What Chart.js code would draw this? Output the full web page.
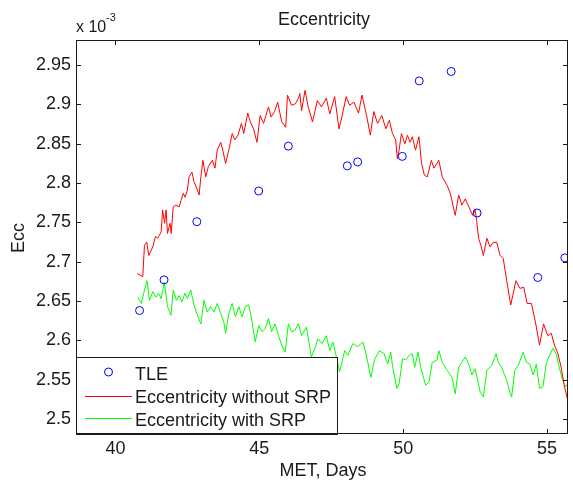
<!DOCTYPE html>
<html lang="en">
<head>
  <meta charset="UTF-8" />
  <title>Eccentricity</title>
  <script src="https://cdn.jsdelivr.net/npm/chart.js"></script>
  <style>
    body { margin: 0; background: #fff; }
    canvas { display: block; }
  </style>
</head>
<body>
  <canvas id="eccChart" width="573" height="483"></canvas>

  <script>
    // values in units of 1e-3 (axis shows "x 10^-3")
    const tleDays = [40.84, 41.69, 42.83, 44.98, 46.01, 48.06, 48.42, 49.97, 50.56, 51.67, 52.57, 54.68, 55.62];
    const tleEcc  = [2.638, 2.677, 2.751, 2.790, 2.847, 2.822, 2.827, 2.834, 2.930, 2.942, 2.762, 2.680, 2.705];

    const redDays = [40.76, 40.95, 41.01, 41.09, 41.16, 41.30, 41.39, 41.47, 41.59, 41.64,
      41.71, 41.76, 41.81, 41.90, 41.94, 42.01, 42.10, 42.22, 42.28, 42.36,
      42.42, 42.50, 42.56, 42.66, 42.73, 42.81, 42.91, 42.97, 43.04, 43.14,
      43.23, 43.37, 43.46, 43.54, 43.66, 43.73, 43.83, 43.94, 44.06, 44.15,
      44.26, 44.38, 44.46, 44.60, 44.69, 44.80, 44.92, 45.03, 45.15, 45.32,
      45.41, 45.53, 45.64, 45.78, 45.92, 45.98, 46.12, 46.26, 46.36, 46.41,
      46.47, 46.59, 46.70, 46.85, 47.02, 47.16, 47.33, 47.45, 47.62, 47.77,
      47.87, 48.02, 48.14, 48.29, 48.45, 48.57, 48.74, 48.86, 48.98, 49.11,
      49.26, 49.40, 49.52, 49.63, 49.74, 49.80, 49.86, 49.94, 50.06, 50.15,
      50.24, 50.32, 50.43, 50.55, 50.64, 50.74, 50.84, 50.98, 51.07, 51.24,
      51.36, 51.53, 51.64, 51.81, 51.93, 52.04, 52.16, 52.28, 52.42, 52.50,
      52.56, 52.62, 52.70, 52.79, 52.91, 53.02, 53.11, 53.25, 53.37, 53.48,
      53.60, 53.74, 53.81, 53.92, 54.06, 54.19, 54.31, 54.46, 54.61, 54.74,
      54.88, 55.03, 55.15, 55.26, 55.38, 55.49, 55.61, 55.72, 55.80];
    const redEcc = [2.685, 2.681, 2.721, 2.725, 2.708, 2.719, 2.732, 2.730, 2.738, 2.766,
      2.749, 2.766, 2.736, 2.749, 2.736, 2.770, 2.772, 2.770, 2.778, 2.787,
      2.782, 2.791, 2.808, 2.814, 2.802, 2.795, 2.785, 2.808, 2.829, 2.808,
      2.821, 2.829, 2.819, 2.842, 2.852, 2.842, 2.825, 2.842, 2.863, 2.855,
      2.861, 2.876, 2.863, 2.889, 2.878, 2.869, 2.852, 2.886, 2.876, 2.897,
      2.884, 2.891, 2.903, 2.878, 2.871, 2.912, 2.899, 2.901, 2.908, 2.914,
      2.892, 2.918, 2.897, 2.878, 2.905, 2.897, 2.908, 2.888, 2.910, 2.869,
      2.884, 2.910, 2.899, 2.903, 2.889, 2.912, 2.884, 2.861, 2.891, 2.876,
      2.886, 2.869, 2.880, 2.863, 2.855, 2.831, 2.842, 2.863, 2.850, 2.861,
      2.852, 2.859, 2.842, 2.859, 2.825, 2.810, 2.808, 2.829, 2.819, 2.829,
      2.808, 2.797, 2.787, 2.759, 2.785, 2.772, 2.780, 2.770, 2.759, 2.766,
      2.751, 2.730, 2.721, 2.708, 2.730, 2.719, 2.724, 2.725, 2.708, 2.704,
      2.676, 2.645, 2.657, 2.676, 2.666, 2.668, 2.647, 2.647, 2.621, 2.594,
      2.621, 2.606, 2.609, 2.594, 2.583, 2.566, 2.541, 2.524, 2.512];

    const greenDays = [40.78, 40.90, 41.01, 41.10, 41.18, 41.30, 41.41, 41.50, 41.59, 41.70,
      41.81, 41.93, 42.01, 42.12, 42.22, 42.31, 42.42, 42.50, 42.62, 42.73,
      42.85, 42.97, 43.08, 43.19, 43.31, 43.42, 43.54, 43.66, 43.77, 43.83,
      43.94, 44.06, 44.17, 44.29, 44.40, 44.52, 44.63, 44.74, 44.86, 44.98,
      45.09, 45.21, 45.32, 45.43, 45.55, 45.67, 45.78, 45.90, 46.01, 46.12,
      46.24, 46.36, 46.47, 46.64, 46.81, 46.93, 47.04, 47.18, 47.33, 47.45,
      47.56, 47.68, 47.79, 47.97, 48.08, 48.25, 48.42, 48.60, 48.71, 48.88,
      49.00, 49.17, 49.34, 49.46, 49.57, 49.63, 49.78, 49.86, 49.98, 50.09,
      50.21, 50.32, 50.40, 50.52, 50.61, 50.78, 50.90, 51.01, 51.18, 51.24,
      51.36, 51.53, 51.70, 51.81, 51.93, 52.04, 52.16, 52.28, 52.39, 52.50,
      52.68, 52.79, 52.91, 53.08, 53.23, 53.31, 53.42, 53.60, 53.71, 53.77,
      53.88, 54.00, 54.17, 54.29, 54.40, 54.52, 54.63, 54.74, 54.86, 54.98,
      55.09, 55.21, 55.32, 55.41, 55.53, 55.64, 55.72];
    const greenEcc = [2.655, 2.647, 2.664, 2.676, 2.651, 2.662, 2.655, 2.660, 2.653, 2.674,
      2.643, 2.632, 2.664, 2.651, 2.657, 2.649, 2.660, 2.653, 2.664, 2.645,
      2.632, 2.621, 2.651, 2.636, 2.643, 2.636, 2.647, 2.634, 2.623, 2.609,
      2.634, 2.647, 2.630, 2.643, 2.630, 2.643, 2.645, 2.626, 2.598, 2.619,
      2.611, 2.615, 2.628, 2.611, 2.621, 2.606, 2.594, 2.585, 2.621, 2.611,
      2.613, 2.621, 2.606, 2.617, 2.579, 2.590, 2.602, 2.596, 2.606, 2.587,
      2.598, 2.579, 2.560, 2.587, 2.581, 2.596, 2.592, 2.598, 2.583, 2.553,
      2.575, 2.587, 2.583, 2.570, 2.585, 2.568, 2.539, 2.545, 2.577, 2.575,
      2.581, 2.583, 2.566, 2.585, 2.566, 2.543, 2.547, 2.572, 2.575, 2.587,
      2.572, 2.562, 2.553, 2.532, 2.566, 2.572, 2.579, 2.570, 2.556, 2.564,
      2.534, 2.528, 2.562, 2.568, 2.583, 2.572, 2.566, 2.549, 2.534, 2.528,
      2.562, 2.568, 2.585, 2.572, 2.570, 2.556, 2.570, 2.539, 2.541, 2.572,
      2.581, 2.590, 2.583, 2.568, 2.551, 2.541, 2.545];

    const xTicks = [40, 45, 50, 55];
    const yTicks = [2.5, 2.55, 2.6, 2.65, 2.7, 2.75, 2.8, 2.85, 2.9, 2.95];
    const seriesNames = ['TLE', 'Eccentricity without SRP', 'Eccentricity with SRP'];

    const toPts = (xs, ys) => xs.map((x, i) => ({ x, y: ys[i] }));
    const FONT = "'Liberation Sans', Arial, sans-serif";
    const INK = '#1a1a1a';

    // box, inward ticks, legend and text labels in matlab style
    const matlabDecor = {
      id: 'matlabDecor',
      afterDatasetsDraw(chart) {
        const ctx = chart.ctx;
        const a = chart.chartArea;
        const xs = chart.scales.x, ys = chart.scales.y;
        ctx.save();
        ctx.strokeStyle = INK;
        ctx.lineWidth = 1;
        ctx.beginPath();
        xTicks.forEach(v => {
          const px = Math.round(xs.getPixelForValue(v)) + 0.5;
          ctx.moveTo(px, a.bottom); ctx.lineTo(px, a.bottom - 5);
          ctx.moveTo(px, a.top); ctx.lineTo(px, a.top + 5);
        });
        yTicks.forEach(v => {
          const py = Math.round(ys.getPixelForValue(v)) + 0.5;
          ctx.moveTo(a.left, py); ctx.lineTo(a.left + 5, py);
          ctx.moveTo(a.right, py); ctx.lineTo(a.right - 5, py);
        });
        ctx.stroke();

        // legend box
        const lx = a.left + 0.5, ly = 357.5, lw = 261, lh = a.bottom - 357;
        ctx.fillStyle = '#fff';
        ctx.fillRect(lx, ly, lw, lh);
        ctx.strokeRect(lx, ly, lw, lh);

        ctx.strokeStyle = '#0000ff';
        ctx.beginPath();
        ctx.arc(108.5, 372, 4, 0, Math.PI * 2);
        ctx.stroke();
        ctx.strokeStyle = '#ff0000';
        ctx.beginPath(); ctx.moveTo(85, 396.5); ctx.lineTo(132, 396.5); ctx.stroke();
        ctx.strokeStyle = '#00ff00';
        ctx.beginPath(); ctx.moveTo(85, 418.5); ctx.lineTo(132, 418.5); ctx.stroke();

        ctx.fillStyle = INK;
        ctx.font = '18px ' + FONT;
        ctx.textAlign = 'left';
        ctx.textBaseline = 'alphabetic';
        ctx.fillText(seriesNames[0], 135, 380);
        ctx.fillText(seriesNames[1], 135, 403);
        ctx.fillText(seriesNames[2], 135, 426);

        // axes box
        ctx.strokeStyle = INK;
        ctx.strokeRect(a.left + 0.5, a.top + 0.5, a.right - a.left - 1, a.bottom - a.top - 1);
        ctx.restore();
      },
      afterDraw(chart) {
        const ctx = chart.ctx;
        ctx.save();
        ctx.fillStyle = INK;
        ctx.font = '18px ' + FONT;
        ctx.textAlign = 'center';
        ctx.textBaseline = 'middle';
        ctx.fillText('Eccentricity', 324, 20);
        ctx.fillText('MET, Days', 323, 471);

        ctx.save();
        ctx.translate(19, 238);
        ctx.rotate(-Math.PI / 2);
        ctx.fillText('Ecc', 0, 0);
        ctx.restore();

        ctx.textAlign = 'left';
        ctx.textBaseline = 'alphabetic';
        ctx.font = '16px ' + FONT;
        ctx.fillText('x 10', 76, 32);
        ctx.font = '11px ' + FONT;
        ctx.fillText('-3', 106, 21);
        ctx.restore();
      }
    };

    new Chart(document.getElementById('eccChart'), {
      type: 'scatter',
      data: {
        datasets: [
          {
            label: seriesNames[0],
            data: toPts(tleDays, tleEcc),
            showLine: false,
            pointStyle: 'circle',
            pointRadius: 4,
            pointBorderColor: '#0000ff',
            pointBackgroundColor: 'rgba(0,0,0,0)',
            pointBorderWidth: 1
          },
          {
            label: seriesNames[1],
            data: toPts(redDays, redEcc),
            showLine: true,
            borderColor: '#ff0000',
            borderWidth: 1,
            pointRadius: 0
          },
          {
            label: seriesNames[2],
            data: toPts(greenDays, greenEcc),
            showLine: true,
            borderColor: '#00ff00',
            borderWidth: 1,
            pointRadius: 0
          }
        ]
      },
      options: {
        responsive: false,
        animation: false,
        layout: { padding: { top: 40, right: 1, left: 0, bottom: 0 } },
        plugins: { legend: { display: false }, tooltip: { enabled: false } },
        scales: {
          x: {
            type: 'linear',
            min: 38.63,
            max: 55.73,
            afterBuildTicks: s => { s.ticks = xTicks.map(v => ({ value: v })); },
            afterFit: s => { s.height = 49; },
            grid: { display: false, drawTicks: false },
            border: { display: false },
            ticks: { color: INK, font: { family: FONT, size: 18 }, padding: 4, maxRotation: 0, autoSkip: false }
          },
          y: {
            type: 'linear',
            min: 2.481,
            max: 2.982,
            afterBuildTicks: s => { s.ticks = yTicks.map(v => ({ value: v })); },
            afterFit: s => { s.width = 76; },
            grid: { display: false, drawTicks: false },
            border: { display: false },
            ticks: {
              color: INK, font: { family: FONT, size: 18 }, padding: 5, autoSkip: false,
              callback: v => String(+v.toFixed(2))
            }
          }
        }
      },
      plugins: [matlabDecor]
    });
  </script>
</body>
</html>
